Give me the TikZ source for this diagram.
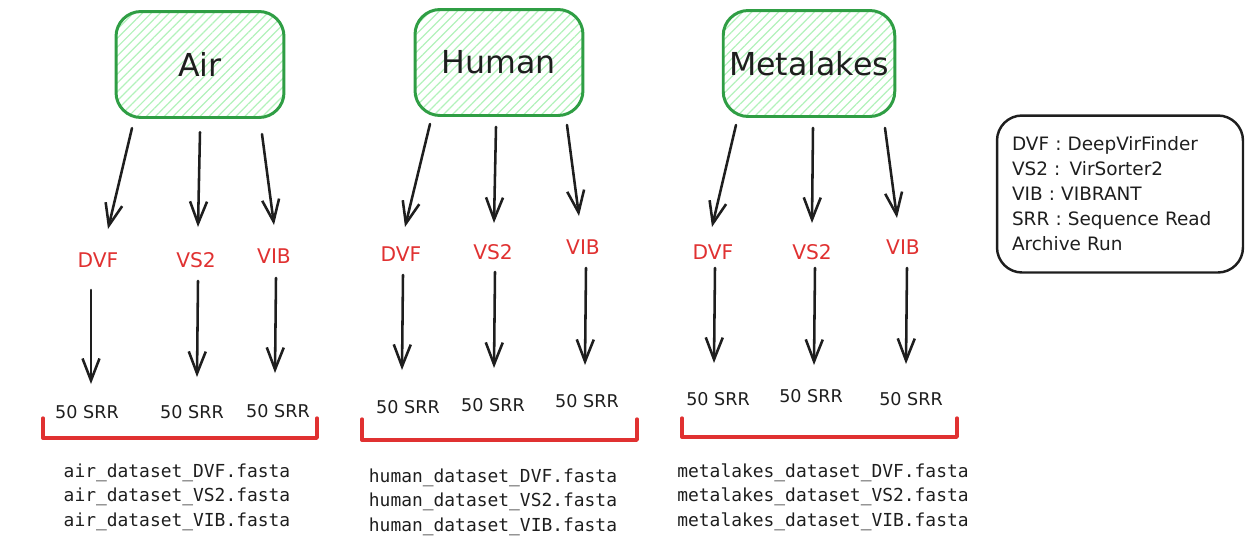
\documentclass[tikz,border=0pt]{standalone}
\usepackage{fontspec}
\setmainfont{DejaVu Sans}
\newfontfamily\fastafont{DejaVu Sans Mono}
\usetikzlibrary{arrows.meta,patterns.meta}
\definecolor{boxgreen}{HTML}{2F9E44}
\definecolor{hatchgreen}{HTML}{B2F2BB}
\definecolor{toolred}{HTML}{E03131}
\definecolor{ink}{HTML}{1E1E1E}
\tikzset{
    srcbox/.style={
           rectangle,
           rounded corners=0.5cm,
           draw=boxgreen, line width=1.7pt,
           pattern={Lines[angle=45,distance=3.6pt,line width=0.7pt]},
           pattern color=hatchgreen,
           minimum width=3.36cm,
           minimum height=2.12cm,
           text=ink,
           font=\fontsize{18}{20}\selectfont,
           },
    tool/.style={text=toolred, inner sep=1pt, font=\fontsize{11.5}{13}\selectfont},
    srr/.style={text=ink, inner sep=1pt, font=\fontsize{10}{12}\selectfont},
    fastalist/.style={align=left, text=ink, inner sep=0pt,
           font=\fastafont\fontsize{10.2}{13.9}\selectfont},
    legendbox/.style={
           rectangle,
           rounded corners=0.5cm,
           draw=ink, line width=1.4pt,
           minimum width=4.92cm,
           minimum height=3.14cm,
           text width=4.32cm,
           inner sep=0.3cm,
           align=left,
           text=ink,
           font=\fontsize{10.5}{14.2}\selectfont,
           },
    arr/.style={-{Straight Barb[length=4.4mm,width=3.4mm]}, draw=ink, line width=1.45pt, line cap=round},
    bracket/.style={draw=toolred, line width=1.9pt, line join=round, line cap=round},
}

\begin{document}
\begin{tikzpicture}[x=0.02cm,y=-0.02cm]
 \useasboundingbox (0,0) rectangle (1252,549);

 % the three data sources (hatched green boxes)
 \node[srcbox] (Air) at (200,64.5) {Air};
 \node[srcbox] (Human) at (499,62.5) {Human};
 \node[srcbox] (Metalakes) at (809,63.5) {Metalakes};

 % legend on the right
 \node[legendbox] (Legend) at (1120,194)
 {DVF : DeepVirFinder\\VS2 : VirSorter2\\VIB : VIBRANT\\SRR : Sequence Read\\Archive Run};

 % tool labels below each source
 \node[tool] (Air DVF) at (98,260) {DVF};
 \node[tool] (Air VS2) at (196,260) {VS2};
 \node[tool] (Air VIB) at (274,256) {VIB};
 \node[tool] (Human DVF) at (401,254) {DVF};
 \node[tool] (Human VS2) at (493,252) {VS2};
 \node[tool] (Human VIB) at (583,247) {VIB};
 \node[tool] (Meta DVF) at (713,252) {DVF};
 \node[tool] (Meta VS2) at (812,252) {VS2};
 \node[tool] (Meta VIB) at (903,247) {VIB};

 % run counts
 \node[srr] (Air SRR1) at (87,412) {50 SRR};
 \node[srr] (Air SRR2) at (192,412) {50 SRR};
 \node[srr] (Air SRR3) at (278,411) {50 SRR};
 \node[srr] (Human SRR1) at (408,407) {50 SRR};
 \node[srr] (Human SRR2) at (493,405) {50 SRR};
 \node[srr] (Human SRR3) at (587,401) {50 SRR};
 \node[srr] (Meta SRR1) at (718,399) {50 SRR};
 \node[srr] (Meta SRR2) at (811,396) {50 SRR};
 \node[srr] (Meta SRR3) at (911,399) {50 SRR};

 % output files
 \node[fastalist] (Air Files) at (177,497)
 {air\_dataset\_DVF.fasta\\air\_dataset\_VS2.fasta\\air\_dataset\_VIB.fasta};
 \node[fastalist] (Human Files) at (493,502)
 {human\_dataset\_DVF.fasta\\human\_dataset\_VS2.fasta\\human\_dataset\_VIB.fasta};
 \node[fastalist] (Meta Files) at (823,497)
 {metalakes\_dataset\_DVF.fasta\\metalakes\_dataset\_VS2.fasta\\metalakes\_dataset\_VIB.fasta};

 % arrows source -> tool
 \draw[arr] ([shift={(-68,10)}]Air.south) -- ([shift={(10,-31)}]Air DVF.center);
 \draw[arr] ([shift={(0,14)}]Air.south) -- ([shift={(2,-33)}]Air VS2.center);
 \draw[arr] ([shift={(62,16)}]Air.south) -- ([shift={(0,-31)}]Air VIB.center);
 \draw[arr] ([shift={(-69,7)}]Human.south) -- ([shift={(4,-27)}]Human DVF.center);
 \draw[arr] ([shift={(-3,10)}]Human.south) -- ([shift={(1,-29)}]Human VS2.center);
 \draw[arr] ([shift={(68,8)}]Human.south) -- ([shift={(-4,-31)}]Human VIB.center);
 \draw[arr] ([shift={(-73,7)}]Metalakes.south) -- ([shift={(-1,-25)}]Meta DVF.center);
 \draw[arr] ([shift={(4,10)}]Metalakes.south) -- ([shift={(0,-29)}]Meta VS2.center);
 \draw[arr] ([shift={(76,10)}]Metalakes.south) -- ([shift={(-6,-29)}]Meta VIB.center);

 % arrows tool -> runs
 \draw[arr] ([shift={(-7,30)}]Air DVF.center) -- ([shift={(4,-28)}]Air SRR1.center);
 \draw[arr] ([shift={(2,21)}]Air VS2.center) -- ([shift={(5,-35)}]Air SRR2.center);
 \draw[arr] ([shift={(2,22)}]Air VIB.center) -- ([shift={(-3,-38)}]Air SRR3.center);
 \draw[arr] ([shift={(2,21)}]Human DVF.center) -- ([shift={(-6,-37)}]Human SRR1.center);
 \draw[arr] ([shift={(2,20)}]Human VS2.center) -- ([shift={(1,-37)}]Human SRR2.center);
 \draw[arr] ([shift={(3,21)}]Human VIB.center) -- ([shift={(-2,-36)}]Human SRR3.center);
 \draw[arr] ([shift={(2,16)}]Meta DVF.center) -- ([shift={(-4,-36)}]Meta SRR1.center);
 \draw[arr] ([shift={(3,16)}]Meta VS2.center) -- ([shift={(3,-31)}]Meta SRR2.center);
 \draw[arr] ([shift={(4,21)}]Meta VIB.center) -- ([shift={(-5,-35)}]Meta SRR3.center);

 % red brackets grouping the runs
 \draw[bracket] (43,418) |- (317,438) -- (317,418);
 \draw[bracket] (362,419) |- (637,440) -- (637,419);
 \draw[bracket] (682,418) |- (957,437) -- (957,418);

\end{tikzpicture}
\end{document}
